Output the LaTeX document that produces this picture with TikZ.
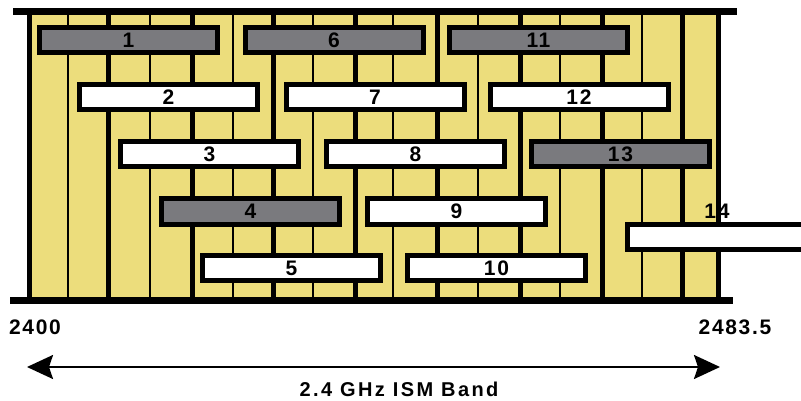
\documentclass[tikz,border=0pt]{standalone}
\usepackage{fontspec}
\setmainfont{Liberation Sans}[LetterSpace=8]
\newfontfamily\bandfont{Liberation Sans}[LetterSpace=12]
\usetikzlibrary{arrows.meta}
\definecolor{bandyellow}{RGB}{236,221,124}
\definecolor{chgray}{RGB}{122,122,126}
\begin{document}
\begin{tikzpicture}[x=1pt,y=-1pt,
  chbox/.style={draw=black,line width=5pt,minimum width=178pt,minimum height=25pt,inner sep=0pt,
     font=\fontsize{21}{21}\selectfont\bfseries},
  graybox/.style={chbox,fill=chgray},
  whitebox/.style={chbox,fill=white},
  thinline/.style={line width=1.8pt,black},
  thickline/.style={line width=5pt,black},
  bar/.style={line width=7pt,black},
  lbl/.style={font=\fontsize{21}{21}\selectfont\bfseries,inner sep=0pt}]
\useasboundingbox (0,0) rectangle (801,401);
\clip (0,0) rectangle (801,401);
% band background
\fill[bandyellow] (29,15) rectangle (718,297);
% grid lines
\foreach \x in {68,150,233,313,393,478,560,642}
  \draw[thinline] (\x,15) -- (\x,297);
\foreach \x in {108,192,273,355,437,520,602,682}
  \draw[thickline] (\x,15) -- (\x,297);
\draw[thickline] (29.5,15) -- (29.5,297);
\draw[thickline] (718,15) -- (718,297);
% bars
\draw[bar] (13,11.5) -- (737,11.5);
\draw[bar] (10,300) -- (733,300);
% channels
\node[graybox]  (b1)  at (128.5,40)  {1};
\node[whitebox] (b2)  at (168.5,97.5) {2};
\node[whitebox] (b3)  at (209.5,154.5) {3};
\node[graybox]  (b4)  at (250.5,211.5) {4};
\node[whitebox] (b5)  at (291.5,268) {5};
\node[graybox]  (b6)  at (334,40)  {6};
\node[whitebox] (b7)  at (375,97.5) {7};
\node[whitebox] (b8)  at (415.5,154.5) {8};
\node[whitebox] (b9)  at (456.5,211.5) {9};
\node[whitebox] (b10) at (496.5,268) {10};
\node[graybox]  (b11) at (538.5,40)  {11};
\node[whitebox] (b12) at (579,97.5) {12};
\node[graybox]  (b13) at (620.5,154.5) {13};
\node[whitebox] (b14) at (716.5,236.5) {};
\node[lbl] (l14) at (717,211) {14};
% frequency labels
\node[lbl] (f1) at (35,327) {2400};
\node[lbl] (f2) at (735,327) {2483.5};
% band arrow
\coordinate (aL) at (27,367);
\coordinate (aR) at (720,367);
\draw[line width=2.2pt,{Stealth[length=26pt,width=24pt,inset=4pt]}-{Stealth[length=26pt,width=24pt,inset=4pt]}] (aL) -- (aR);
\node[inner sep=0pt,font=\bandfont\fontsize{20}{20}\selectfont\bfseries] (band) at (399,389) {2.4 GHz ISM Band};
\end{tikzpicture}
\end{document}
